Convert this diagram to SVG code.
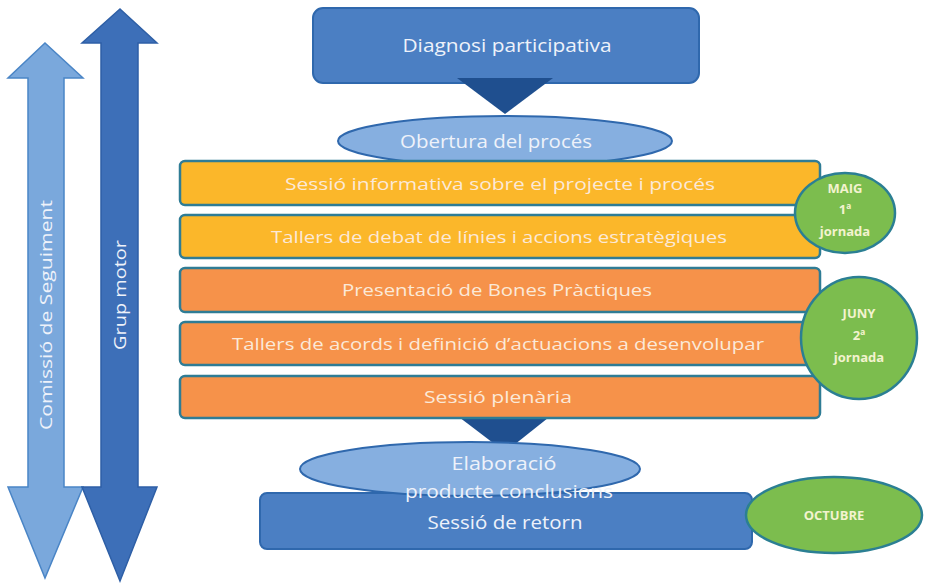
<svg xmlns="http://www.w3.org/2000/svg" width="927" height="583" viewBox="0 0 927 583">
<defs>
<style>
.t{font-family:"Open Sans","Liberation Sans",sans-serif;fill:#eef2fa;text-anchor:middle}
.bar{stroke:#2f7c95;stroke-width:2.5}
.yel{fill:#fbb72a}
.ora{fill:#f6924a}
.blue{fill:#4b7fc3;stroke:#2f68ad;stroke-width:2}
.ell{fill:#86afe0;stroke:#2f68ad;stroke-width:2}
.grn{fill:#7cbd4e;stroke:#2b7f93;stroke-width:2.5}
.gt{font-family:"Open Sans","Liberation Sans",sans-serif;font-weight:bold;fill:#f3f3cf;text-anchor:middle;font-size:13px}
.tri{fill:#1f4f8f}
.bt{font-size:17px;fill:#fbe9d8}
</style>
</defs>
<rect width="927" height="583" fill="#ffffff"/>
<g id="comissio">
<polygon points="45,43 83,78 64,78 64,487 83,487 45,578 8,487 28,487 28,78 8,78" fill="#7aa8dc" stroke="#4a85c6" stroke-width="1.5"/>
<text class="t" font-size="17" transform="translate(52,315) rotate(-90)" textLength="230" lengthAdjust="spacingAndGlyphs">Comissió de Seguiment</text>
</g>
<g id="grup">
<polygon points="120,9 157,43 138,43 138,487 157,487 120,581 82,487 101,487 101,43 82,43" fill="#3d6fb8" stroke="#2e5fa6" stroke-width="1.5"/>
<text class="t" font-size="17" transform="translate(126,295) rotate(-90)" textLength="110" lengthAdjust="spacingAndGlyphs">Grup motor</text>
</g>
<g id="diagnosi">
<rect class="blue" x="313" y="8" width="386" height="75" rx="10"/>
<text class="t" x="507" y="52" font-size="18" textLength="209" lengthAdjust="spacingAndGlyphs">Diagnosi participativa</text>
</g>
<g id="connectors">
<polygon class="tri" points="457,78 553,78 505,114"/>
<polygon class="tri" points="455,414 553,414 505,452"/>
</g>
<g id="obertura">
<ellipse class="ell" cx="505" cy="141" rx="167" ry="25"/>
<text class="t" x="496" y="148" font-size="18" textLength="192" lengthAdjust="spacingAndGlyphs">Obertura del procés</text>
</g>
<g id="sessio-informativa">
<rect class="bar yel" x="180" y="161" width="640" height="44" rx="5"/>
<text class="t bt" x="500" y="190" textLength="430" lengthAdjust="spacingAndGlyphs">Sessió informativa sobre el projecte i procés</text>
</g>
<g id="tallers-debat">
<rect class="bar yel" x="180" y="215" width="640" height="43" rx="5"/>
<text class="t bt" x="499" y="243" textLength="456" lengthAdjust="spacingAndGlyphs">Tallers de debat de línies i accions estratègiques</text>
</g>
<g id="bones-practiques">
<rect class="bar ora" x="180" y="268" width="640" height="44" rx="5"/>
<text class="t bt" x="497" y="296" textLength="310" lengthAdjust="spacingAndGlyphs">Presentació de Bones Pràctiques</text>
</g>
<g id="tallers-acords">
<rect class="bar ora" x="180" y="322" width="640" height="43" rx="5"/>
<text class="t bt" x="498" y="350" textLength="532" lengthAdjust="spacingAndGlyphs">Tallers de acords i definició d’actuacions a desenvolupar</text>
</g>
<g id="sessio-plenaria">
<rect class="bar ora" x="180" y="376" width="640" height="42" rx="5"/>
<text class="t bt" x="498" y="403" textLength="148" lengthAdjust="spacingAndGlyphs">Sessió plenària</text>
</g>
<g id="maig">
<ellipse class="grn" cx="845" cy="213" rx="50" ry="40"/>
<text class="gt" x="845" y="193">MAIG</text>
<text class="gt" x="845" y="214">1ª</text>
<text class="gt" x="845" y="236">jornada</text>
</g>
<g id="juny">
<ellipse class="grn" cx="859" cy="338" rx="58" ry="61"/>
<text class="gt" x="859" y="318">JUNY</text>
<text class="gt" x="859" y="340">2ª</text>
<text class="gt" x="859" y="362">jornada</text>
</g>
<g id="sessio-retorn">
<rect class="blue" x="260" y="493" width="492" height="56" rx="7"/>
<text class="t" x="505" y="529" font-size="18" textLength="155" lengthAdjust="spacingAndGlyphs">Sessió de retorn</text>
</g>
<g id="elaboracio">
<ellipse class="ell" cx="470" cy="469" rx="170" ry="27"/>
<text class="t" x="504" y="470" font-size="18" textLength="105" lengthAdjust="spacingAndGlyphs">Elaboració</text>
<text class="t" x="509" y="498" font-size="18" textLength="208" lengthAdjust="spacingAndGlyphs">producte conclusions</text>
</g>
<g id="octubre">
<ellipse class="grn" cx="834" cy="515" rx="88" ry="38"/>
<text class="gt" x="834" y="520">OCTUBRE</text>
</g>
</svg>
